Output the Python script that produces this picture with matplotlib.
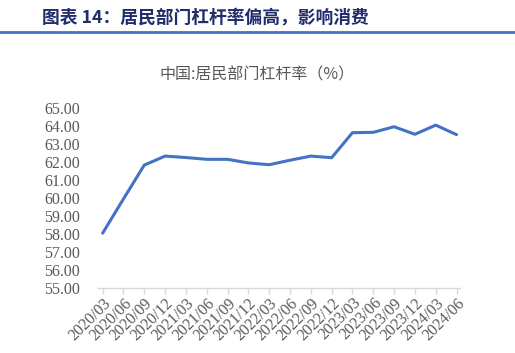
import matplotlib
matplotlib.use("Agg")
import matplotlib.pyplot as plt
from matplotlib.lines import Line2D

plt.rcParams['font.family'] = ['Liberation Serif', 'Noto Sans CJK SC', 'DejaVu Sans']

quarters = ['2020/03', '2020/06', '2020/09', '2020/12', '2021/03', '2021/06',
            '2021/09', '2021/12', '2022/03', '2022/06', '2022/09', '2022/12',
            '2023/03', '2023/06', '2023/09', '2023/12', '2024/03', '2024/06']
leverage = [58.05, 59.95, 61.83, 62.33, 62.25, 62.15, 62.15, 61.95, 61.85,
            62.1, 62.33, 62.24, 63.63, 63.65, 63.96, 63.54, 64.05, 63.52]
yticks = [55, 56, 57, 58, 59, 60, 61, 62, 63, 64, 65]

fig = plt.figure(figsize=(5.15, 3.53), dpi=100)
ax = fig.add_axes([0.190, 0.184, 0.703, 0.510])

x = list(range(len(quarters)))
ax.plot(x, leverage, color='#4472C4', linewidth=2.2, solid_capstyle='round')

ax.set_xlim(-0.23, 17.16)
ax.set_ylim(55, 65)
ax.set_yticks(yticks)
ax.set_yticklabels([f'{v:.2f}' for v in yticks], color='#595959', fontsize=11.5)
ax.set_xticks(x)
ax.set_xticklabels(quarters, rotation=45, ha='right', va='top', rotation_mode='anchor',
                   color='#595959', fontsize=11.5)
ax.tick_params(axis='y', length=0, pad=13)
ax.tick_params(axis='x', length=4, color='#D9D9D9', width=1, pad=1)

for s in ['top', 'right', 'left']:
    ax.spines[s].set_visible(False)
ax.spines['bottom'].set_color('#D9D9D9')
ax.spines['bottom'].set_linewidth(1)

fig.text(0.082, 0.948, '图表 14：居民部门杠杆率偏高，影响消费', fontsize=12.8,
         fontweight='bold', color='#1F2D6B', family=['Noto Sans CJK SC'],
         ha='left', va='center')
fig.add_artist(Line2D([0, 1], [0.909, 0.909], color='#4472C4', linewidth=2,
                      transform=fig.transFigure))
fig.text(0.5, 0.787, '中国:居民部门杠杆率（%）', fontsize=11.5, color='#595959',
         family=['Noto Sans CJK SC'], ha='center', va='center')

fig.savefig('out.png', dpi=100)
